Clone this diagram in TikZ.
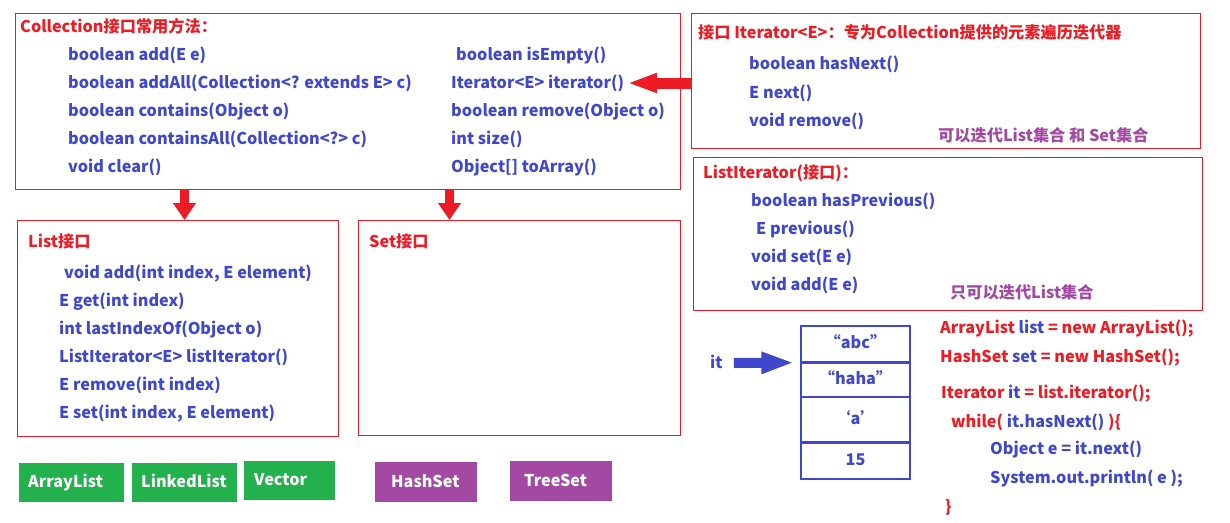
\documentclass[tikz,border=0pt]{standalone}
\usepackage{fontspec}
\setmainfont{Noto Sans CJK SC}
\usetikzlibrary{positioning, arrows.meta}

\definecolor{redline}{RGB}{237,28,36}
\definecolor{bluetext}{RGB}{63,72,204}
\definecolor{purpletext}{RGB}{163,73,164}
\definecolor{greenbox}{RGB}{34,177,76}

\newcommand{\txtfont}{\bfseries\fontsize{16.2}{19}\selectfont}

\tikzset{
  redbox/.style={draw=redline, line width=1.3pt, anchor=north west, inner sep=0pt},
  title/.style={text=redline, anchor=west, font=\txtfont, inner sep=0pt,
    text height=1.12em, text depth=0pt},
  meth/.style={title, text=bluetext},
  note/.style={title, text=purpletext},
  cls/.style={anchor=north west, inner ysep=0pt, align=left, text=white,
    font=\txtfont, text height=1.0em, text depth=0pt},
  cell/.style={draw=bluetext, line width=1.3pt, minimum width=109pt,
    text=bluetext, font=\txtfont, inner sep=0pt, text height=0.9em, text depth=0pt},
  fatarrow/.style={redline, line width=9pt, -{Triangle[length=17pt,width=22pt]}},
  itarrow/.style={bluetext, line width=10pt, -{Triangle[length=33pt,width=20pt]}},
}

\begin{document}
\begin{tikzpicture}[x=1pt, y=-1pt]
    \useasboundingbox (0,0) rectangle (1230,522);

    % Collection
    \node [redbox, minimum width=665pt, minimum height=176pt] (coll) at (15,13) {};
    \node [title] (ctitle) at (20,27) {Collection接口常用方法：};
    \foreach \m [count=\i] in {boolean add(E e), boolean addAll(Collection<? extends E> c),
      boolean contains(Object o), boolean containsAll(Collection<?> c), void clear()}
      \node [meth] (cl\i) at (68,{55+28*(\i-1)}) {\m};
    \node [meth] (cr1) at (456,55) {boolean isEmpty()};
    \foreach \m [count=\i from 2] in {Iterator<E> iterator(), boolean remove(Object o),
      int size(), Object[] toArray()}
      \node [meth] (cr\i) at (451,{55+28*(\i-1)}) {\m};

    % Iterator
    \node [redbox, minimum width=509pt, minimum height=135pt] (iter) at (691,13) {};
    \node [title] (ititle) at (698,33) {接口 Iterator<E>：专为Collection提供的元素遍历迭代器};
    \foreach \m [count=\i] in {boolean hasNext(), E next(), void remove()}
      \node [meth] (im\i) at (749,{64+28.5*(\i-1)}) {\m};
    \node [note] (inote) at (938,136) {可以迭代List集合 和 Set集合};

    % ListIterator
    \node [redbox, minimum width=509pt, minimum height=153pt] (liter) at (693,157) {};
    \node [title] (ltitle) at (703,173) {ListIterator(接口)：};
    \node [meth] (lm1) at (751,201) {boolean hasPrevious()};
    \node [meth] (lm2) at (756,229) {E previous()};
    \node [meth] (lm3) at (751,257) {void set(E e)};
    \node [meth] (lm4) at (751,285) {void add(E e)};
    \node [note] (lnote) at (950,293) {只可以迭代List集合};

    % List
    \node [redbox, minimum width=321pt, minimum height=216pt] (list) at (17,220) {};
    \node [title] (listtitle) at (28,242) {List接口};
    \node [meth] (lim1) at (64,273) {void add(int index, E element)};
    \foreach \m [count=\i from 2] in {E get(int index), int lastIndexOf(Object o),
      ListIterator<E> listIterator(), E remove(int index), {E set(int index, E element)}}
      \node [meth] (lim\i) at (59,{273+28*(\i-1)}) {\m};

    % Set
    \node [redbox, minimum width=322pt, minimum height=215pt] (set) at (358,220) {};
    \node [title] (settitle) at (369,242) {Set接口};

    % implementations
    \node [cls, fill=greenbox, inner xsep=9pt, text width=87pt, minimum height=39pt] (arraylist) at (19,463) {ArrayList};
    \node [cls, fill=greenbox, inner xsep=9pt, text width=87pt, minimum height=39pt] (linkedlist) at (132,463) {LinkedList};
    \node [cls, fill=greenbox, inner xsep=10pt, text width=71pt, minimum height=39pt] (vector) at (244,461) {Vector};
    \node [cls, fill=purpletext, inner xsep=16pt, text width=70pt, minimum height=40pt] (hashset) at (375,462) {HashSet};
    \node [cls, fill=purpletext, inner xsep=14pt, text width=74pt, minimum height=40pt] (treeset) at (510,461) {TreeSet};

    % elements
    \node [cell, minimum height=36pt] (r1) at (855.5,344) {“abc”};
    \node [cell, minimum height=33pt, below=0pt of r1] (r2) {“haha”};
    \node [cell, minimum height=44pt, below=0pt of r2] (r3) {‘a’};
    \node [cell, minimum height=36pt, below=0pt of r3] (r4) {15};
    \node [meth] (it) at (710,363) {it};

    % code
    \node [title] (code1) at (940,328) {ArrayList {\color{bluetext}list} = new ArrayList();};
    \node [title] (code2) at (940,357) {HashSet {\color{bluetext}set} = new HashSet();};
    \node [title] (code3) at (941,393) {Iterator {\color{bluetext}it} = list.iterator();};
    \node [title] (code4) at (951,422) {while( {\color{bluetext}it.hasNext()} )\{};
    \node [meth] (code5) at (990,449) {Object e = it.next()};
    \node [meth] (code6) at (990,478) {System.out.println( e );};
    \node [title] (code7) at (945,507) {\}};

    % arrows
    \draw [fatarrow] ([xshift=169.5pt]coll.south west) -- ([xshift=169.5pt]coll.south west |- list.north);
    \draw [fatarrow] ([xshift=434.5pt]coll.south west) -- ([xshift=434.5pt]coll.south west |- set.north);
    \draw [fatarrow, line width=11pt, -{Triangle[length=30pt,width=18pt]}]
      (iter.west |- cr2.east) -- ([xshift=3pt]cr2.east);
    \draw [itarrow] ([xshift=11pt]it.east) -- ([xshift=-6pt]r1.south west);
\end{tikzpicture}
\end{document}
